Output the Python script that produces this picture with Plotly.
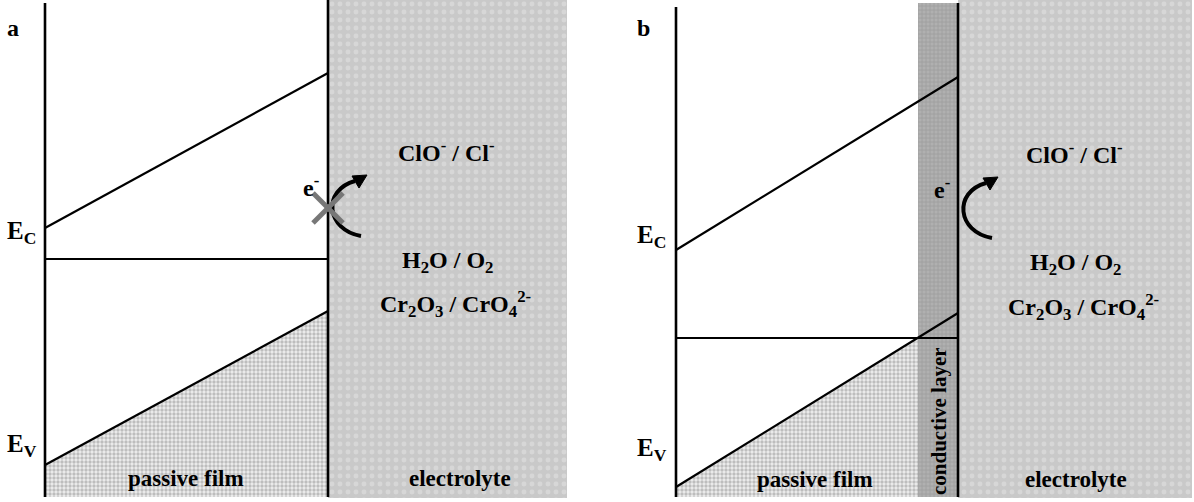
import plotly.graph_objects as go

W, H = 1194, 502

# ---- diagram geometry (pixel-like data units, y grows downward) ----
panels = ["a", "b"]
left_x = [45, 676]          # metal/film left boundary
iface_x = [328, 958]        # film/electrolyte interface
line_top = [3, 7]
line_bot = 497
elec_right = [567, 1192]
cl_layer = [918, 958]       # conductive layer (panel b)

ec_left = [228, 250]        # conduction band at left edge
ec_right = [73, 77]         # conduction band at interface
ef_level = [259, 338]       # Fermi level
ev_left = [465, 487]        # valence band at left edge
ev_right = [311, 313]       # valence band at interface

label_font = "Liberation Serif"

fig = go.Figure()

for i in range(2):
    # electrolyte
    xe0, xe1 = iface_x[i], elec_right[i]
    fig.add_trace(go.Scatter(
        x=[xe0, xe1, xe1, xe0, xe0], y=[0, 0, line_bot + 1, line_bot + 1, 0],
        mode="lines", line=dict(width=0), fill="toself", fillcolor="#c8c8c8",
        fillpattern=dict(shape=".", bgcolor="#c9c9c9", fgcolor="#e6e6e6", size=8, solidity=0.3),
        hoverinfo="skip", showlegend=False))
    # passive film stipple under valence band
    fig.add_trace(go.Scatter(
        x=[left_x[i], iface_x[i], iface_x[i], left_x[i], left_x[i]],
        y=[ev_left[i], ev_right[i], line_bot, line_bot, ev_left[i]],
        mode="lines", line=dict(width=0), fill="toself", fillcolor="#d6d6d6",
        fillpattern=dict(shape=".", bgcolor="#eeeeee", fgcolor="#8c8c8c", size=4, solidity=0.55),
        hoverinfo="skip", showlegend=False))

# conductive layer (panel b)
fig.add_trace(go.Scatter(
    x=[cl_layer[0], cl_layer[1], cl_layer[1], cl_layer[0], cl_layer[0]],
    y=[3, 3, line_bot, line_bot, 3],
    mode="lines", line=dict(width=0), fill="toself", fillcolor="#a6a6a6",
    fillpattern=dict(shape="+", bgcolor="#b0b0b0", fgcolor="#8c8c8c", size=4, solidity=0.4),
    hoverinfo="skip", showlegend=False))

for i in range(2):
    blk = dict(color="black", width=2.2)
    # vertical boundaries
    fig.add_trace(go.Scatter(x=[left_x[i], left_x[i]], y=[line_top[i], line_bot],
                             mode="lines", line=dict(color="black", width=2.6),
                             hoverinfo="skip", showlegend=False))
    fig.add_trace(go.Scatter(x=[iface_x[i], iface_x[i]], y=[0 if i == 0 else 3, line_bot],
                             mode="lines", line=dict(color="black", width=2.6),
                             hoverinfo="skip", showlegend=False))
    # conduction band
    fig.add_trace(go.Scatter(x=[left_x[i], iface_x[i]], y=[ec_left[i], ec_right[i]],
                             mode="lines", line=blk, hoverinfo="skip", showlegend=False))
    # Fermi level
    fig.add_trace(go.Scatter(x=[left_x[i], iface_x[i]], y=[ef_level[i], ef_level[i]],
                             mode="lines", line=blk, hoverinfo="skip", showlegend=False))
    # valence band
    fig.add_trace(go.Scatter(x=[left_x[i], iface_x[i]], y=[ev_left[i], ev_right[i]],
                             mode="lines", line=blk, hoverinfo="skip", showlegend=False))

# ---- curved electron-transfer arrows ----
arc_paths = [
    "M 361 236 C 326 230, 322 190, 355 181",
    "M 992 238 C 957 232, 953 192, 986 183",
]
arrow_heads = [
    "M 367 175 L 352 176 L 359 188 Z",
    "M 998 177 L 983 178 L 990 190 Z",
]
shapes = []
for p in arc_paths:
    shapes.append(dict(type="path", path=p, xref="x", yref="y",
                       line=dict(color="black", width=4)))
for p in arrow_heads:
    shapes.append(dict(type="path", path=p, xref="x", yref="y",
                       fillcolor="black", line=dict(color="black", width=1)))
# blocked transfer cross (panel a)
cx, cy, r = 328, 208, 15
shapes.append(dict(type="line", x0=cx - r, y0=cy - r, x1=cx + r, y1=cy + r,
                   xref="x", yref="y", line=dict(color="#777777", width=5)))
shapes.append(dict(type="line", x0=cx - r, y0=cy + r, x1=cx + r, y1=cy - r,
                   xref="x", yref="y", line=dict(color="#777777", width=5)))

# ---- labels ----
texts = [
    ("a", 5, 28, 24, "left"), ("b", 635, 28, 24, "left"),
    ("E<sub>C</sub>", 5, 232, 25, "left"), ("E<sub>V</sub>", 5, 445, 25, "left"),
    ("E<sub>C</sub>", 635, 236, 25, "left"), ("E<sub>V</sub>", 635, 449, 25, "left"),
    ("e<sup>-</sup>", 311, 186, 24, "center"), ("e<sup>-</sup>", 942, 188, 24, "center"),
    ("ClO<sup>-</sup> / Cl<sup>-</sup>", 446, 151, 24, "center"),
    ("H<sub>2</sub>O / O<sub>2</sub>", 447, 262, 24, "center"),
    ("Cr<sub>2</sub>O<sub>3</sub> / CrO<sub>4</sub><sup>2-</sup>", 455, 304, 24, "center"),
    ("ClO<sup>-</sup> / Cl<sup>-</sup>", 1074, 153, 24, "center"),
    ("H<sub>2</sub>O / O<sub>2</sub>", 1075, 264, 24, "center"),
    ("Cr<sub>2</sub>O<sub>3</sub> / CrO<sub>4</sub><sup>2-</sup>", 1083, 307, 24, "center"),
    ("passive film", 186, 478, 23, "center"), ("passive film", 815, 479, 23, "center"),
    ("electrolyte", 460, 478, 23, "center"), ("electrolyte", 1076, 479, 23, "center"),
]
annotations = []
for t, x, y, s, xa in texts:
    annotations.append(dict(text="<b>" + t + "</b>", x=x, y=y, xref="x", yref="y",
                            xanchor=xa, yanchor="middle", showarrow=False,
                            font=dict(family=label_font, size=s, color="black")))
annotations.append(dict(text="<b>conductive layer</b>", x=939, y=421, xref="x", yref="y",
                        textangle=-90, showarrow=False, xanchor="center", yanchor="middle",
                        font=dict(family=label_font, size=21, color="black")))

fig.update_layout(
    width=W, height=H, margin=dict(l=0, r=0, t=0, b=0),
    paper_bgcolor="white", plot_bgcolor="white",
    xaxis=dict(range=[0, W], visible=False, fixedrange=True),
    yaxis=dict(range=[H, 0], visible=False, fixedrange=True),
    shapes=shapes, annotations=annotations, showlegend=False,
)

fig.write_html("out.html")
